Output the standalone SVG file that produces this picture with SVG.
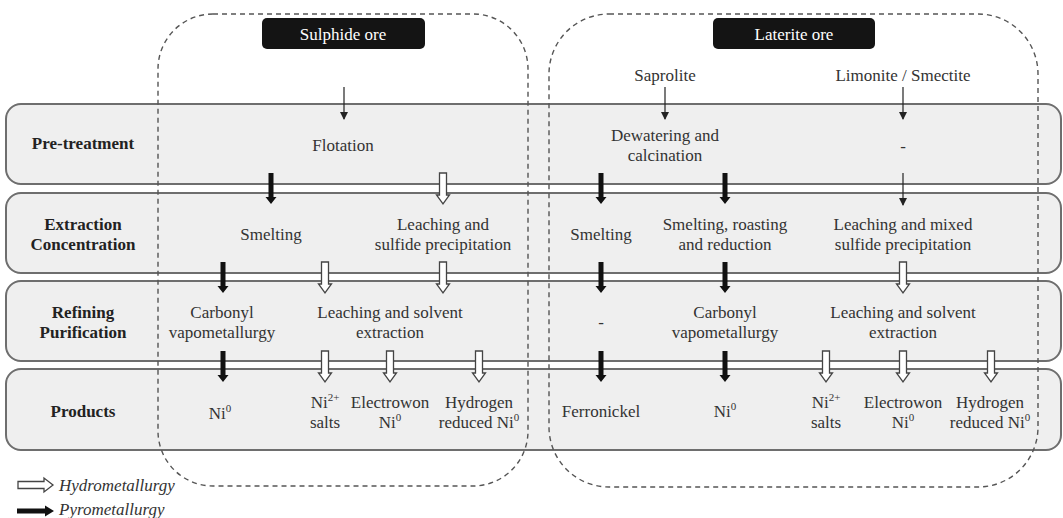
<svg xmlns="http://www.w3.org/2000/svg" width="1063" height="518" viewBox="0 0 1063 518" font-family="'Liberation Serif','DejaVu Serif','Times New Roman',serif">
<defs>
<style>
.band{fill:#efefef;stroke:#6e6e6e;stroke-width:2}
.dash{fill:none;stroke:#555;stroke-width:1.4;stroke-dasharray:5 4}
.ore{fill:#141414}
.t{font-family:'Liberation Serif','DejaVu Serif','Times New Roman',serif;font-size:17px;fill:#333;text-anchor:middle}
.w{fill:#fff}
.b{font-weight:bold;fill:#222}
.i{font-style:italic;text-anchor:start}
.pyro{fill:#111}
.hydro{fill:#fff;stroke:#444;stroke-width:1.3}
.thin{stroke:#222;stroke-width:1.2;fill:none}
</style>
<path id="pa" class="pyro" d="M-2.5,0 H2.5 V24 H5.5 L0,31 L-5.5,24 H-2.5 Z"/>
<path id="ha" class="hydro" d="M-3.5,0 H3.5 V22 H6.5 L0,31 L-6.5,22 H-3.5 Z"/>
<marker id="tri" markerWidth="8" markerHeight="8" refX="7" refY="4" orient="auto" markerUnits="userSpaceOnUse">
<path d="M0,0 L8,4 L0,8 Z" fill="#222"/>
</marker>
</defs>
<rect width="1063" height="518" fill="#fff"/>

<g id="bands">
<rect id="band-pre" class="band" x="6" y="104" width="1055" height="80" rx="15"/>
<rect id="band-ext" class="band" x="6" y="193" width="1055" height="80" rx="15"/>
<rect id="band-ref" class="band" x="6" y="281" width="1055" height="80" rx="15"/>
<rect id="band-prod" class="band" x="6" y="369" width="1055" height="81" rx="15"/>
</g>

<g id="groups">
<rect id="sulphide-group" class="dash" x="158" y="14" width="370" height="472" rx="55"/>
<rect id="laterite-group" class="dash" x="549" y="14" width="489" height="473" rx="60"/>
</g>

<g id="labels">
<text class="t b" x="83" y="149">Pre-treatment</text>
<text class="t b" x="83" y="230">Extraction</text>
<text class="t b" x="83" y="250">Concentration</text>
<text class="t b" x="83" y="318">Refining</text>
<text class="t b" x="83" y="338">Purification</text>
<text class="t b" x="83" y="417">Products</text>
</g>

<g id="node-sulphide-ore"><rect class="ore" x="262" y="18" width="163" height="31" rx="5"/><text class="t w" x="343" y="40">Sulphide ore</text></g>
<g id="node-laterite-ore"><rect class="ore" x="713" y="18" width="162" height="31" rx="5"/><text class="t w" x="794" y="40">Laterite ore</text></g>
<g id="node-saprolite"><text class="t" x="665" y="81">Saprolite</text></g>
<g id="node-limonite"><text class="t" x="903" y="81">Limonite / Smectite</text></g>

<g id="node-flotation"><text class="t" x="343" y="151">Flotation</text></g>
<g id="node-dewatering"><text class="t" x="665" y="141">Dewatering and</text><text class="t" x="665" y="161">calcination</text></g>
<g id="node-pre-dash"><text class="t" x="903" y="152">-</text></g>

<g id="node-smelting-s"><text class="t" x="271" y="240">Smelting</text></g>
<g id="node-leach-sulfide"><text class="t" x="443" y="230">Leaching and</text><text class="t" x="443" y="250">sulfide precipitation</text></g>
<g id="node-smelting-l"><text class="t" x="601" y="240">Smelting</text></g>
<g id="node-smelt-roast"><text class="t" x="725" y="230">Smelting, roasting</text><text class="t" x="725" y="250">and reduction</text></g>
<g id="node-leach-mixed"><text class="t" x="903" y="230">Leaching and mixed</text><text class="t" x="903" y="250">sulfide precipitation</text></g>

<g id="node-carbonyl-s"><text class="t" x="222" y="318">Carbonyl</text><text class="t" x="222" y="338">vapometallurgy</text></g>
<g id="node-leach-solvent-s"><text class="t" x="390" y="318">Leaching and solvent</text><text class="t" x="390" y="338">extraction</text></g>
<g id="node-ref-dash"><text class="t" x="601" y="328">-</text></g>
<g id="node-carbonyl-l"><text class="t" x="725" y="318">Carbonyl</text><text class="t" x="725" y="338">vapometallurgy</text></g>
<g id="node-leach-solvent-l"><text class="t" x="903" y="318">Leaching and solvent</text><text class="t" x="903" y="338">extraction</text></g>

<g id="node-ni0-s"><text class="t" x="220" y="419">Ni<tspan font-size="11" dy="-7">0</tspan></text></g>
<g id="node-salts-s"><text class="t" x="325" y="408">Ni<tspan font-size="11" dy="-7">2+</tspan></text><text class="t" x="325" y="428">salts</text></g>
<g id="node-electrowon-s"><text class="t" x="390" y="408">Electrowon</text><text class="t" x="390" y="428">Ni<tspan font-size="11" dy="-7">0</tspan></text></g>
<g id="node-hydrogen-s"><text class="t" x="479" y="408">Hydrogen</text><text class="t" x="479" y="428">reduced Ni<tspan font-size="11" dy="-7">0</tspan></text></g>
<g id="node-ferronickel"><text class="t" x="601" y="417">Ferronickel</text></g>
<g id="node-ni0-l"><text class="t" x="725" y="417">Ni<tspan font-size="11" dy="-7">0</tspan></text></g>
<g id="node-salts-l"><text class="t" x="826" y="408">Ni<tspan font-size="11" dy="-7">2+</tspan></text><text class="t" x="826" y="428">salts</text></g>
<g id="node-electrowon-l"><text class="t" x="903" y="408">Electrowon</text><text class="t" x="903" y="428">Ni<tspan font-size="11" dy="-7">0</tspan></text></g>
<g id="node-hydrogen-l"><text class="t" x="990" y="408">Hydrogen</text><text class="t" x="990" y="428">reduced Ni<tspan font-size="11" dy="-7">0</tspan></text></g>

<g id="connectors">
<line class="thin" x1="344" y1="87" x2="344" y2="119" marker-end="url(#tri)"/>
<line class="thin" x1="665" y1="87" x2="665" y2="119" marker-end="url(#tri)"/>
<line class="thin" x1="903" y1="87" x2="903" y2="119" marker-end="url(#tri)"/>
<line class="thin" x1="903" y1="173" x2="903" y2="205" marker-end="url(#tri)"/>

<use href="#pa" x="271" y="173"/>
<use href="#ha" x="443" y="173"/>
<use href="#pa" x="601" y="173"/>
<use href="#pa" x="725" y="173"/>

<use href="#pa" x="223" y="262"/>
<use href="#ha" x="325" y="262"/>
<use href="#ha" x="443" y="262"/>
<use href="#pa" x="601" y="262"/>
<use href="#pa" x="725" y="262"/>
<use href="#ha" x="903" y="262"/>

<use href="#pa" x="223" y="351"/>
<use href="#ha" x="325" y="351"/>
<use href="#ha" x="390" y="351"/>
<use href="#ha" x="479" y="351"/>
<use href="#pa" x="601" y="351"/>
<use href="#pa" x="725" y="351"/>
<use href="#ha" x="826" y="351"/>
<use href="#ha" x="903" y="351"/>
<use href="#ha" x="991" y="351"/>
</g>

<g id="legend">
<path class="hydro" d="M18,481.5 V488.5 H44 V492 L53,485 L44,478 V481.5 Z"/>
<text class="t i" x="59" y="491">Hydrometallurgy</text>
<path class="pyro" d="M17,508.5 V513.5 H45 V516.5 L54,511 L45,505.5 V508.5 Z"/>
<text class="t i" x="59" y="515">Pyrometallurgy</text>
</g>
</svg>
